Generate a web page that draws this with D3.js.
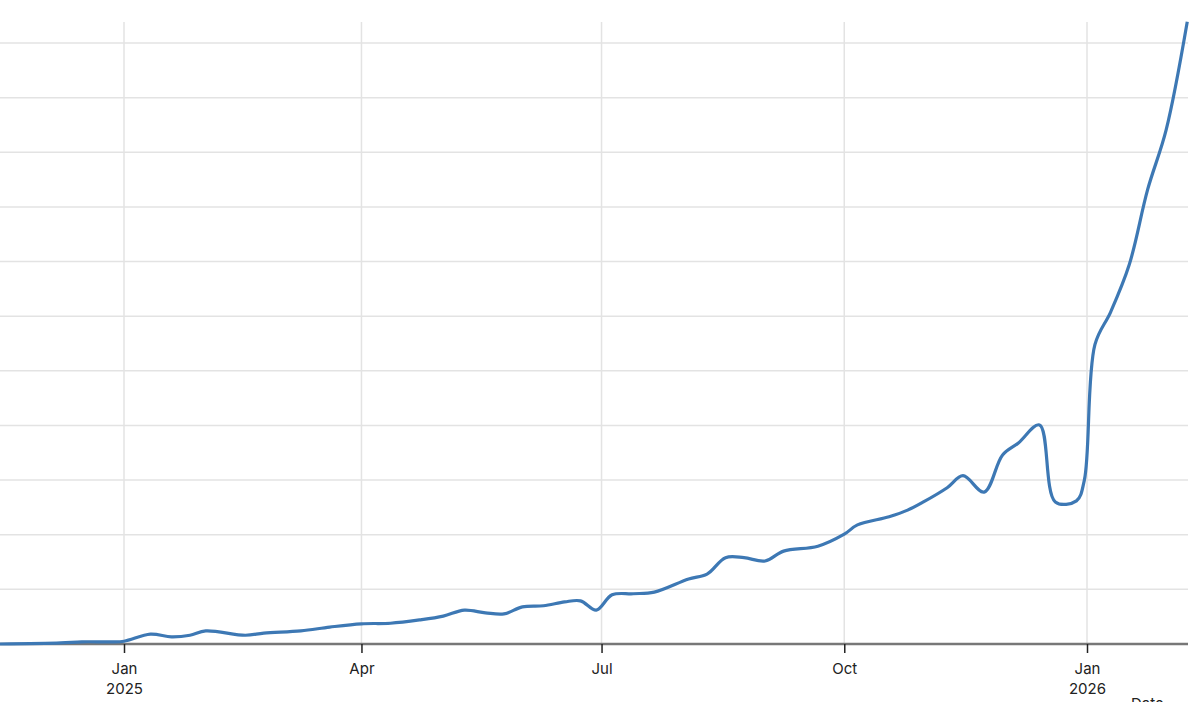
<!DOCTYPE html>
<html>
<head>
<meta charset="utf-8">
<script src="https://cdn.jsdelivr.net/npm/d3@7"></script>
<style>
  body { margin: 0; background: #fff; overflow: hidden; }
  text { font-family: Inter, "Noto Sans", sans-serif; }
</style>
</head>
<body>
<svg class="chart"></svg>
<script>
// values; y units are arbitrary (axis labels are cropped away)
var dates = ['2024-11-15','2024-12-08','2024-12-16','2024-12-27','2025-01-01','2025-01-11','2025-01-19','2025-01-26',
  '2025-02-01','2025-02-16','2025-02-23','2025-03-09','2025-03-20','2025-04-01','2025-04-12','2025-04-23',
  '2025-05-02','2025-05-10','2025-05-18','2025-05-25','2025-06-01','2025-06-09','2025-06-17','2025-06-23',
  '2025-06-29','2025-07-05','2025-07-13','2025-07-21','2025-08-03','2025-08-10','2025-08-17','2025-08-24',
  '2025-09-01','2025-09-08','2025-09-21','2025-10-01','2025-10-06','2025-10-18','2025-10-25','2025-10-31',
  '2025-11-09','2025-11-15','2025-11-23','2025-11-30','2025-12-06','2025-12-14','2025-12-20','2025-12-28',
  '2025-12-31','2026-01-04','2026-01-10','2026-01-17','2026-01-24','2026-01-31','2026-02-08']
var values = [0,2,4,4,5,18,13,16,
  24,16,20,24,31,37,38,44,
  51,62,57,55,68,70,77,79,
  62,90,92,95,119,128,158,158,
  152,170,179,201,218,233,245,260,
  286,308,278,346,368,401,260,262,
  300,548,608,694,832,941,1139]
var yTicks = d3.range(0, 1101, 100)
var xTickDates = ['2025-01-01','2025-04-01','2025-07-01','2025-10-01','2026-01-01']
var xTickLabels = [['Jan','2025'],['Apr'],['Jul'],['Oct'],['Jan','2026']]

var W = 1194, H = 702
var parse = d3.timeParse('%Y-%m-%d')
var data = dates.map(function(d, i) { return {date: parse(d), value: values[i]} })

var x = d3.scaleTime()
    .domain([parse('2024-11-15'), parse('2026-01-01')])
    .range([0, 1087])
var y = d3.scaleLinear().domain([0, 1100]).range([644, 43])

var svg = d3.select('.chart').attr('width', W).attr('height', H)

svg.append('g')
    .selectAll('line')
    .data(yTicks.slice(1))
  .enter().append('line')
    .attr('x1', 0).attr('x2', 1188)
    .attr('y1', function(d) { return y(d) }).attr('y2', function(d) { return y(d) })
    .attr('stroke', '#e3e3e3').attr('stroke-width', 1.5)

var ticks = xTickDates.map(parse)

svg.append('g')
    .selectAll('line')
    .data(ticks)
  .enter().append('line')
    .attr('x1', function(d) { return x(d) }).attr('x2', function(d) { return x(d) })
    .attr('y1', 22).attr('y2', 644)
    .attr('stroke', '#e3e3e3').attr('stroke-width', 1.5)

var xAxis = svg.append('g')
    .attr('transform', 'translate(0,644)')
    .call(d3.axisBottom(x).tickValues(ticks).tickSize(9).tickFormat(''))
xAxis.select('.domain').attr('stroke', '#777').attr('stroke-width', 2.5).attr('d', 'M0,0H1188')
xAxis.selectAll('.tick line').attr('stroke', '#222').attr('stroke-width', 1.5)

xAxis.selectAll('.tick').each(function(d, i) {
  var t = d3.select(this).append('text')
      .attr('fill', '#222').attr('font-size', 15).attr('text-anchor', 'middle')
  xTickLabels[i].forEach(function(s, j) {
    t.append('tspan').attr('x', 0).attr('y', 30 + j * 20).text(s)
  })
})

// axis title sits mostly below the frame, as in the original
svg.append('text')
    .attr('x', 1131).attr('y', 709)
    .attr('font-size', 15).attr('fill', '#222')
    .text('Date')

var line = d3.line()
    .x(function(d) { return x(d.date) })
    .y(function(d) { return y(d.value) })
    .curve(d3.curveCatmullRom.alpha(0.5))

svg.append('path')
    .datum(data)
    .attr('d', line)
    .attr('fill', 'none')
    .attr('stroke', '#3d78b4')
    .attr('stroke-width', 3.2)
    .attr('stroke-linejoin', 'round')
</script>
</body>
</html>
